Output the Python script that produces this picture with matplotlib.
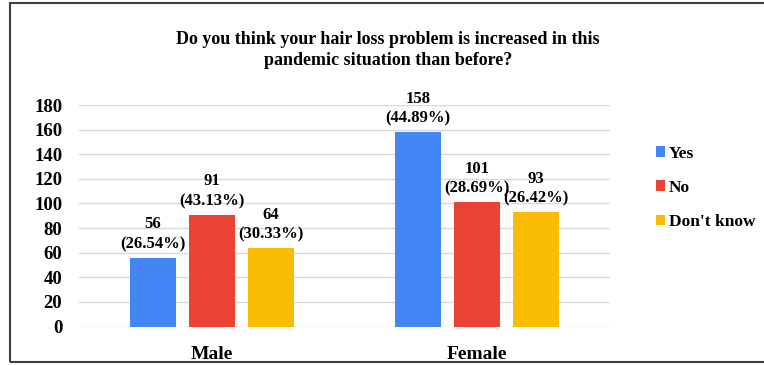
import matplotlib.pyplot as plt
import numpy as np
from matplotlib.patches import Rectangle

groups = ["Male", "Female"]
series = ["Yes", "No", "Don't know"]
counts = {
    "Yes": [56, 158],
    "No": [91, 101],
    "Don't know": [64, 93],
}
percents = {
    "Yes": ["26.54%", "44.89%"],
    "No": ["43.13%", "28.69%"],
    "Don't know": ["30.33%", "26.42%"],
}
colors = ["#4285F4", "#EA4335", "#FBBC04"]
title = "Do you think your hair loss problem is increased in this\npandemic situation than before?"

plt.rcParams["font.family"] = ["Liberation Serif", "DejaVu Serif"]
plt.rcParams["font.weight"] = "bold"

fig = plt.figure(figsize=(7.64, 3.65), dpi=100)
W, H = 764, 365
ax = fig.add_axes([79 / W, 1 - 326.5 / H, (610 - 79) / W, (326.5 - 105) / H])

x = np.arange(len(groups))
width = 0.173
step = 0.222
for i, name in enumerate(series):
    pos = x + (i - 1) * step
    ax.bar(pos, counts[name], width, color=colors[i], label=name, zorder=3)
    for p, v, pc in zip(pos, counts[name], percents[name]):
        ax.annotate(f"{v}\n({pc})", (p, v), xytext=(0, 4), textcoords="offset points",
                    ha="center", va="bottom", fontsize=12, fontweight="bold",
                    linespacing=1.3)

ax.set_xlim(-0.5, 1.5)
ax.set_ylim(0, 180)
ax.set_yticks(range(0, 181, 20))
ax.set_xticks(x)
ax.set_xticklabels(groups, fontsize=14, fontweight="bold")
ax.tick_params(axis="x", length=0, pad=14)
ax.tick_params(axis="y", length=0, labelsize=13.5, pad=12)
ax.grid(axis="y", color="#d9d9d9", linewidth=1, zorder=0)
for s in ax.spines.values():
    s.set_visible(False)

fig.text(388 / W, 1 - 50 / H, title, ha="center", va="center", fontsize=13,
         fontweight="bold", linespacing=1.3)

leg = fig.legend(loc="upper left", bbox_to_anchor=(640 / W, 1 - 130 / H),
                 frameon=False, fontsize=12.5, handlelength=0.55, handleheight=0.55,
                 handletextpad=0.2, labelspacing=1.05)

fig.patches.append(Rectangle((10 / W, 3 / H), 1.0, 1 - 6 / H, transform=fig.transFigure,
                             fill=False, edgecolor="#404040", linewidth=1.5))

fig.savefig("out.png", dpi=100)
